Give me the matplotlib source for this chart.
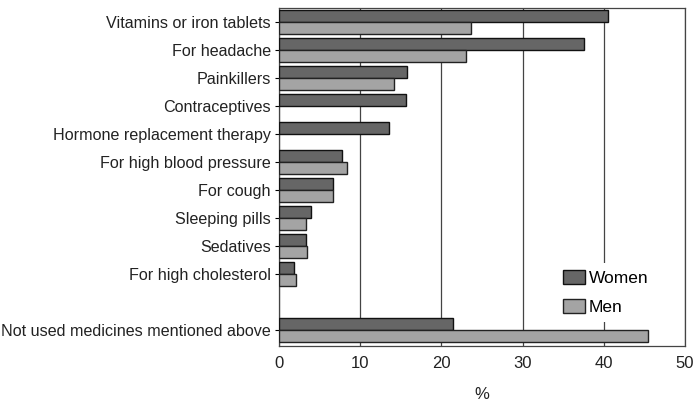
import matplotlib
matplotlib.use("Agg")
import matplotlib.pyplot as plt
import numpy as np

categories = ["Vitamins or iron tablets", "For headache", "Painkillers", "Contraceptives",
              "Hormone replacement therapy", "For high blood pressure", "For cough",
              "Sleeping pills", "Sedatives", "For high cholesterol",
              "Not used medicines mentioned above"]
women = [40.5, 37.5, 15.8, 15.6, 13.5, 7.8, 6.6, 4.0, 3.3, 1.8, 21.4]
men = [23.6, 23.0, 14.1, None, None, 8.4, 6.6, 3.3, 3.5, 2.1, 45.5]
positions = [0, 1, 2, 3, 4, 5, 6, 7, 8, 9, 11]
xticks = [0, 10, 20, 30, 40, 50]

plt.rcParams['font.family'] = ['Liberation Sans', 'DejaVu Sans']

fig = plt.figure(figsize=(6.93, 4.04), dpi=100)
ax = fig.add_axes([0.4026, 0.1436, 0.5859, 0.8366])

h = 0.43
pos = np.array(positions, dtype=float)
w_vals = np.array(women, dtype=float)
m_vals = np.array([np.nan if v is None else v for v in men], dtype=float)
mask = ~np.isnan(m_vals)
ax.barh(pos - h / 2, w_vals, height=h, color="#666666", edgecolor="#111111", linewidth=1.0,
        label="Women", zorder=3)
ax.barh(pos[mask] + h / 2, m_vals[mask], height=h, color="#a4a4a4", edgecolor="#222222",
        linewidth=1.0, label="Men", zorder=3)

ax.set_xlim(0, 50)
ax.set_ylim(11.57, -0.5)
ax.set_xticks(xticks)
ax.set_xticklabels([str(t) for t in xticks], fontsize=12, color="#222222")
ax.set_yticks(positions)
ax.set_yticklabels(categories, fontsize=11.6, color="#222222")
ax.tick_params(axis='y', length=3, width=0.8, pad=3)
ax.tick_params(axis='x', length=0, pad=7)
ax.xaxis.grid(True, color="#444444", linewidth=0.9, zorder=0)
for s in ax.spines.values():
    s.set_linewidth(0.9)
    s.set_color("#444444")
ax.set_xlabel("%", fontsize=12, color="#222222", labelpad=12)

leg = ax.legend(loc="lower right", bbox_to_anchor=(0.94, 0.055), frameon=True, fontsize=12.5,
                handlelength=1.3, handleheight=0.9, handletextpad=0.2, labelspacing=0.75,
                borderaxespad=0.3)
leg.get_frame().set_edgecolor("none")
leg.get_frame().set_facecolor("white")
leg.get_frame().set_alpha(1)
leg.set_zorder(5)

fig.savefig("out.png", dpi=100)
